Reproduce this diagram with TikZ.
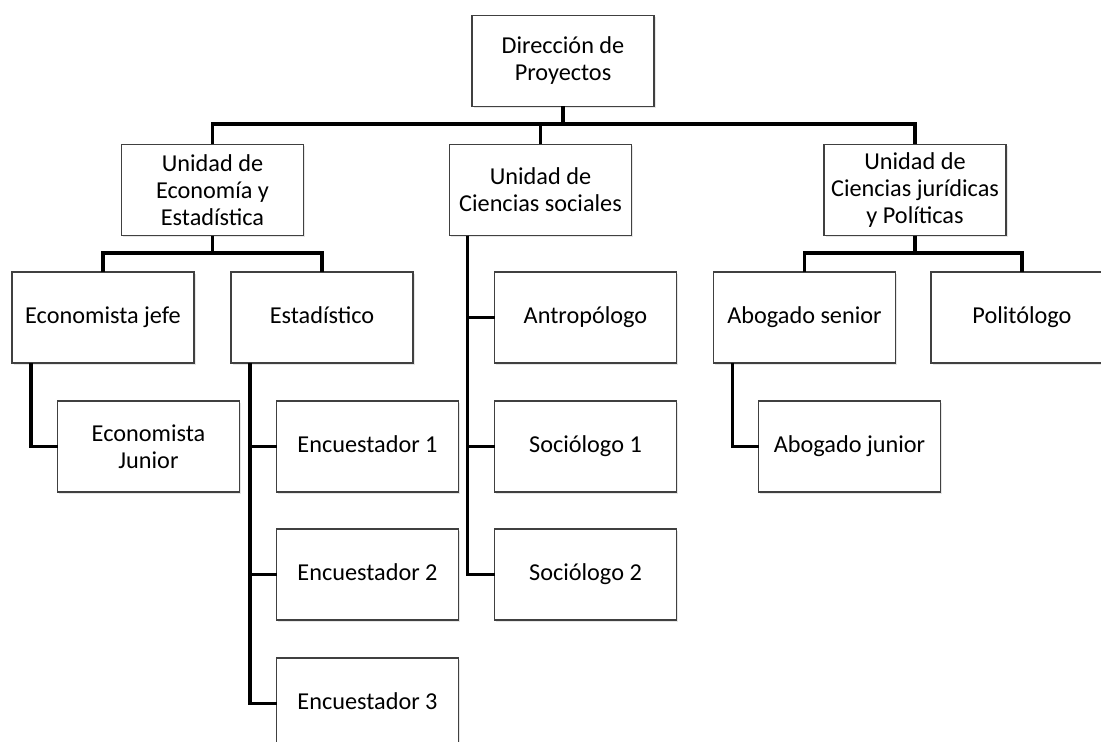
\documentclass[tikz,border=0pt]{standalone}
\usepackage{fontspec}
\setmainfont{Carlito}
\usetikzlibrary{calc,shadows}
\begin{document}
\begin{tikzpicture}[x=0.75pt,y=-0.75pt,
  box/.style={draw=black!75,line width=1.1pt,fill=white,
    minimum width=136.5pt,minimum height=68.25pt,inner sep=0pt,outer sep=0pt,
    align=center,font=\fontsize{18.2}{20.25}\selectfont,
    drop shadow={opacity=0.2,shadow xshift=1.2pt,shadow yshift=-1.2pt}},
  oneline/.style={text height=12.5pt,text depth=4pt},
  conn/.style={draw=black,line width=2.3pt}]
\useasboundingbox (0,0) rectangle (1101,742);
% nodes
\node[box] (dir)  at (563,61)    {Dirección de\\Proyectos};
\node[box] (ue)   at (212.5,190) {Unidad de\\Economía y\\Estadística};
\node[box] (ucs)  at (540.5,190) {Unidad de\\Ciencias sociales};
\node[box] (ucj)  at (915,190)   {Unidad de\\Ciencias jurídicas\\y Políticas};
\node[box,oneline] (ej)   at (103,317.5)   {Economista jefe};
\node[box,oneline] (est)  at (322,317.5)   {Estadístico};
\node[box,oneline] (ant)  at (585.5,317.5) {Antropólogo};
\node[box,oneline] (abs)  at (804.5,317.5) {Abogado senior};
\node[box,oneline] (pol)  at (1022,317.5)  {Politólogo};
\node[box] (ejun) at (148.5,446.5) {Economista\\Junior};
\node[box,oneline] (enc1) at (367.5,446.5) {Encuestador 1};
\node[box,oneline] (soc1) at (585.5,446.5) {Sociólogo 1};
\node[box,oneline] (abj)  at (849.5,446.5) {Abogado junior};
\node[box,oneline] (enc2) at (367.5,574.5) {Encuestador 2};
\node[box,oneline] (soc2) at (585.5,574.5) {Sociólogo 2};
\node[box,oneline] (enc3) at (367.5,703.5) {Encuestador 3};
% branch points
\coordinate (b1) at (563,124);
\coordinate (b2) at (212.5,253);
\coordinate (b3) at (915,253);
% connectors
\draw[conn] (dir.south) -- (b1);
\draw[conn] (ue.north) |- (b1) -| (ucj.north);
\draw[conn] (ucs.north) -- (ucs.north |- b1);
\draw[conn] (ue.south) -- (b2);
\draw[conn] (ej.north) |- (b2) -| (est.north);
\draw[conn] (ucj.south) -- (b3);
\draw[conn] (abs.north) |- (b3) -| (pol.north);
\draw[conn] ($(ej.south west)+(19,0)$) |- (ejun.west);
\draw[conn] ($(est.south west)+(19,0)$) |- (enc1.west);
\draw[conn] ($(est.south west)+(19,0)$) |- (enc2.west);
\draw[conn] ($(est.south west)+(19,0)$) |- (enc3.west);
\draw[conn] ($(ucs.south west)+(18,0)$) |- (ant.west);
\draw[conn] ($(ucs.south west)+(18,0)$) |- (soc1.west);
\draw[conn] ($(ucs.south west)+(18,0)$) |- (soc2.west);
\draw[conn] ($(abs.south west)+(19,0)$) |- (abj.west);
\end{tikzpicture}
\end{document}
